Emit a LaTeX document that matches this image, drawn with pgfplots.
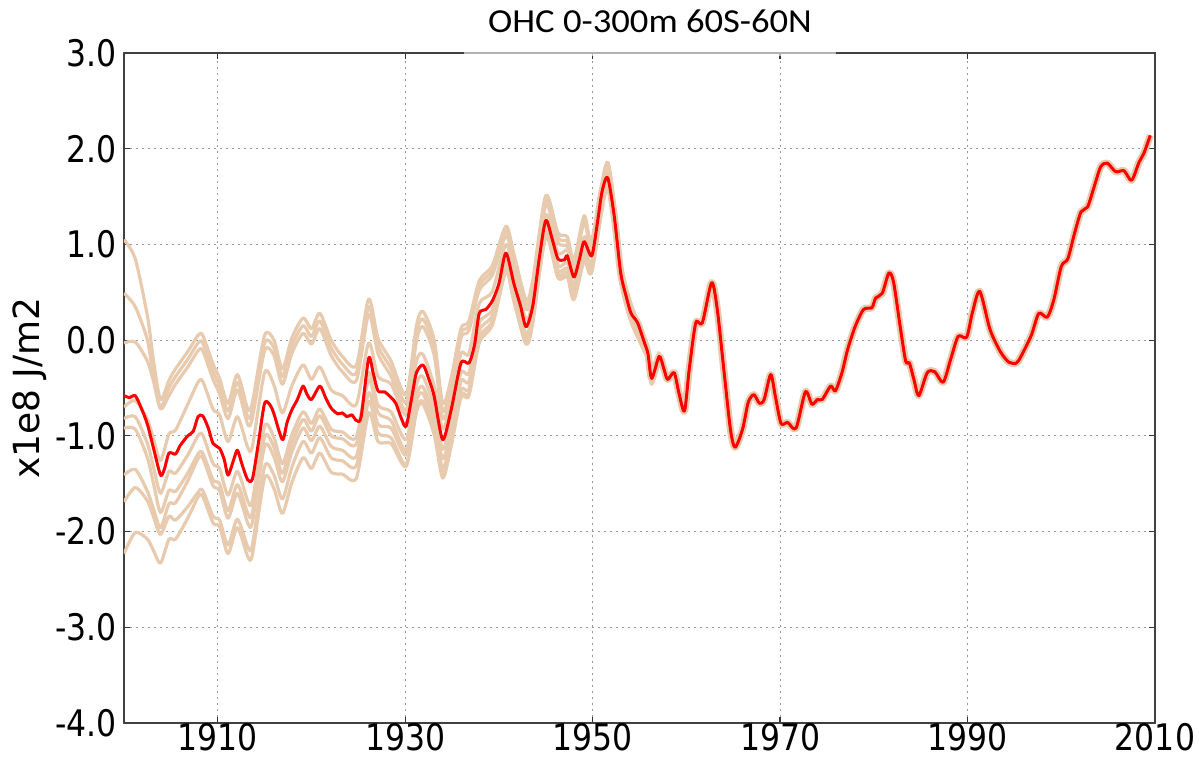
\documentclass[border=0pt]{standalone}
\usepackage{fontspec}
\setmainfont{DejaVu Sans}[FakeStretch=0.86]
\newfontfamily\labfont{DejaVu Sans}
\newfontfamily\titlefont{Carlito}[FakeStretch=1.09]
\usepackage{pgfplots}
\pgfplotsset{compat=1.18}
\usepackage{pgfplotstable}
\definecolor{ens}{RGB}{232,203,175}

% red curve (ensemble reference), year vs OHC
\pgfplotstableread{
year y
1900.0 -0.58
1900.6 -0.60
1901.2 -0.58
1901.8 -0.70
1902.5 -0.88
1903.2 -1.15
1903.9 -1.41
1904.3 -1.35
1904.8 -1.18
1905.5 -1.19
1906.0 -1.10
1906.8 -1.00
1907.4 -0.95
1907.9 -0.80
1908.4 -0.79
1909.0 -0.92
1909.5 -1.08
1910.2 -1.13
1910.7 -1.25
1911.1 -1.41
1911.7 -1.25
1912.1 -1.15
1912.6 -1.30
1913.2 -1.46
1913.7 -1.45
1914.3 -1.10
1915.0 -0.66
1915.6 -0.68
1916.0 -0.77
1916.9 -1.04
1917.4 -0.86
1917.9 -0.73
1918.5 -0.62
1919.1 -0.48
1919.5 -0.56
1920.0 -0.62
1920.9 -0.48
1921.5 -0.60
1922.1 -0.71
1922.8 -0.77
1923.3 -0.76
1923.8 -0.80
1924.3 -0.78
1924.8 -0.84
1925.3 -0.80
1926.1 -0.19
1926.6 -0.35
1927.1 -0.53
1927.8 -0.54
1928.5 -0.60
1929.0 -0.66
1929.6 -0.82
1930.1 -0.90
1930.7 -0.60
1931.2 -0.34
1931.9 -0.26
1932.5 -0.40
1933.1 -0.59
1934.0 -1.04
1934.9 -0.73
1935.95 -0.24
1936.8 -0.24
1937.4 -0.05
1937.9 0.28
1938.6 0.32
1939.3 0.41
1940.0 0.59
1940.75 0.91
1941.6 0.59
1942.3 0.36
1942.9 0.14
1943.6 0.35
1944.3 0.85
1945.0 1.25
1945.7 1.05
1946.3 0.85
1947.0 0.84
1947.3 0.88
1948.0 0.66
1948.6 0.85
1949.1 1.03
1949.9 0.88
1950.5 1.22
1951.0 1.55
1951.6 1.70
1952.3 1.30
1953.0 0.70
1953.6 0.45
1954.1 0.28
1954.8 0.18
1955.5 -0.02
1955.9 -0.14
1956.3 -0.40
1957.1 -0.17
1957.6 -0.30
1958.0 -0.41
1958.7 -0.34
1959.2 -0.55
1959.8 -0.74
1960.3 -0.31
1961.0 0.18
1961.7 0.18
1962.7 0.60
1963.3 0.32
1964.0 -0.31
1964.7 -0.93
1965.2 -1.12
1966.0 -0.93
1966.6 -0.65
1967.2 -0.57
1967.8 -0.66
1968.3 -0.62
1969.0 -0.36
1969.5 -0.59
1970.1 -0.87
1970.8 -0.86
1971.7 -0.92
1972.7 -0.54
1973.4 -0.67
1974.0 -0.62
1974.5 -0.62
1975.4 -0.48
1975.9 -0.53
1976.6 -0.34
1977.2 -0.10
1978.0 0.14
1978.9 0.32
1979.8 0.34
1980.2 0.44
1980.9 0.49
1981.6 0.70
1982.1 0.61
1982.8 0.15
1983.4 -0.22
1983.8 -0.24
1984.3 -0.42
1984.8 -0.58
1985.7 -0.34
1986.5 -0.33
1987.4 -0.44
1988.2 -0.20
1989.0 0.04
1989.9 0.03
1990.5 0.28
1991.3 0.51
1992.4 0.11
1993.5 -0.12
1994.4 -0.23
1995.2 -0.24
1995.7 -0.17
1996.8 0.05
1997.6 0.28
1998.5 0.24
1999.2 0.42
2000.0 0.77
2000.7 0.85
2001.4 1.11
2002.1 1.34
2002.8 1.39
2003.5 1.60
2004.2 1.81
2004.9 1.85
2005.8 1.76
2006.7 1.77
2007.5 1.67
2008.3 1.86
2008.8 1.95
2009.5 2.14
}\redtab

% other ensemble members, early period where they spread out
\pgfplotstableread{
year U1 U2 U3 M L1 L2 L3 L4 L5
1900.0 1.05 0.49 -0.03 -0.70 -0.82 -0.92 -1.41 -1.69 -2.23
1901.2 0.85 0.35 -0.02 -0.63 -0.80 -0.93 -1.35 -1.54 -2.01
1902.5 0.25 0.00 -0.22 -0.83 -1.08 -1.23 -1.58 -1.68 -2.08
1903.2 -0.25 -0.42 -0.45 -1.05 -1.35 -1.52 -1.78 -1.86 -2.21
1903.9 -0.62 -0.70 -0.72 -1.26 -1.60 -1.80 -1.96 -2.03 -2.33
1904.8 -0.42 -0.50 -0.58 -0.98 -1.37 -1.57 -1.71 -1.84 -2.08
1905.5 -0.30 -0.38 -0.46 -0.94 -1.39 -1.58 -1.70 -1.88 -2.08
1906.8 -0.12 -0.20 -0.28 -0.67 -1.20 -1.39 -1.47 -1.74 -1.86
1907.9 0.05 -0.03 -0.11 -0.44 -1.00 -1.19 -1.24 -1.59 -1.64
1908.4 0.05 -0.03 -0.11 -0.43 -0.99 -1.18 -1.23 -1.57 -1.63
1909.5 -0.25 -0.33 -0.41 -0.72 -1.29 -1.46 -1.52 -1.84 -1.91
1910.2 -0.40 -0.48 -0.56 -0.78 -1.34 -1.50 -1.57 -1.88 -1.95
1911.1 -0.66 -0.74 -0.82 -1.06 -1.62 -1.78 -1.86 -2.14 -2.23
1912.1 -0.36 -0.44 -0.52 -0.80 -1.37 -1.51 -1.60 -1.87 -1.96
1913.2 -0.72 -0.80 -0.88 -1.12 -1.68 -1.81 -1.91 -2.16 -2.26
1913.7 -0.65 -0.73 -0.81 -1.11 -1.68 -1.80 -1.90 -2.14 -2.24
1915.0 0.05 -0.03 -0.11 -0.34 -0.90 -1.01 -1.11 -1.32 -1.44
1916.0 0.00 -0.08 -0.16 -0.47 -1.02 -1.12 -1.22 -1.41 -1.55
1916.9 -0.30 -0.38 -0.46 -0.76 -1.29 -1.39 -1.48 -1.66 -1.81
1917.9 0.02 -0.06 -0.14 -0.48 -0.99 -1.08 -1.17 -1.33 -1.49
1919.1 0.23 0.15 0.07 -0.26 -0.75 -0.83 -0.92 -1.06 -1.23
1920.0 0.12 0.04 -0.04 -0.41 -0.87 -0.95 -1.05 -1.18 -1.34
1920.9 0.28 0.20 0.12 -0.28 -0.72 -0.79 -0.90 -1.02 -1.18
1922.1 0.00 -0.08 -0.16 -0.52 -0.93 -1.00 -1.11 -1.23 -1.38
1923.3 -0.17 -0.25 -0.33 -0.58 -0.96 -1.03 -1.15 -1.26 -1.40
1924.8 -0.26 -0.34 -0.42 -0.67 -1.01 -1.08 -1.21 -1.31 -1.44
1926.1 0.43 0.35 0.27 -0.03 -0.34 -0.41 -0.55 -0.64 -0.76
1927.1 0.02 -0.06 -0.14 -0.38 -0.68 -0.76 -0.88 -0.97 -1.06
1928.5 -0.22 -0.30 -0.38 -0.46 -0.75 -0.84 -0.92 -1.02 -1.08
1930.1 -0.57 -0.65 -0.73 -0.78 -1.04 -1.15 -1.20 -1.30 -1.32
1931.2 0.15 0.07 -0.01 -0.22 -0.47 -0.58 -0.64 -0.73 -0.75
1931.9 0.30 0.22 0.14 -0.15 -0.38 -0.49 -0.56 -0.64 -0.67
1933.1 0.00 -0.08 -0.16 -0.48 -0.70 -0.80 -0.89 -0.96 -0.99
1934.0 -0.66 -0.74 -0.82 -0.93 -1.14 -1.24 -1.34 -1.40 -1.44
1934.9 -0.40 -0.48 -0.56 -0.63 -0.83 -0.93 -1.02 -1.08 -1.11
1935.95 0.12 0.07 0.02 -0.14 -0.34 -0.43 -0.52 -0.57 -0.60
1936.8 0.20 0.15 0.10 -0.14 -0.34 -0.43 -0.51 -0.56 -0.58
1937.9 0.62 0.57 0.52 0.38 0.18 0.10 0.03 -0.02 -0.03
1939.3 0.78 0.73 0.68 0.51 0.32 0.26 0.20 0.16 0.16
1940.75 1.19 1.14 1.09 1.00 0.83 0.79 0.75 0.72 0.72
1941.6 0.90 0.85 0.80 0.68 0.51 0.47 0.44 0.41 0.41
1942.9 0.42 0.37 0.32 0.22 0.07 0.03 -0.01 -0.04 -0.04
1943.6 0.62 0.57 0.52 0.42 0.29 0.25 0.21 0.18 0.18
1945.0 1.51 1.46 1.41 1.31 1.19 1.15 1.11 1.08 1.08
1946.3 1.12 1.07 1.02 0.91 0.78 0.73 0.69 0.66 0.65
1947.3 1.08 1.03 0.98 0.94 0.81 0.75 0.71 0.67 0.66
1948.0 0.84 0.81 0.77 0.71 0.58 0.52 0.48 0.44 0.42
1949.1 1.30 1.27 1.23 1.08 0.96 0.91 0.88 0.85 0.83
1949.9 1.05 1.02 0.98 0.93 0.82 0.78 0.75 0.72 0.71
1951.6 1.86 1.83 1.79 1.74 1.66 1.63 1.62 1.60 1.60
1953.0 0.82 0.79 0.77 0.74 0.67 0.64 0.63 0.61 0.61
1954.1 0.38 0.35 0.33 0.31 0.25 0.23 0.22 0.20 0.19
1955.9 -0.06 -0.09 -0.11 -0.11 -0.17 -0.18 -0.19 -0.20 -0.21
1956.3 -0.32 -0.35 -0.37 -0.37 -0.42 -0.44 -0.45 -0.46 -0.46
1957.1 -0.12 -0.15 -0.17 -0.15 -0.19 -0.20 -0.21 -0.22 -0.22
}\enstab

\begin{document}
\begin{tikzpicture}
\begin{axis}[
  name=ax,
  width=515.5pt, height=335pt, scale only axis,
  xmin=1900, xmax=2010, ymin=-4, ymax=3,
  xtick={1910,1930,1950,1970,1990,2010},
  xticklabels={1910,1930,1950,1970,1990,2010},
  ytick={-4,-3,-2,-1,0,1,2,3},
  yticklabels={-4.0,-3.0,-2.0,-1.0,0.0,1.0,2.0,3.0},
  tick label style={font=\fontsize{18.3}{20}\selectfont},
  xticklabel style={inner sep=0pt},
  yticklabel style={inner sep=0pt, xshift=-3.5pt},
  tick align=inside, major tick length=3pt,
  tick style={black!80, line width=0.6pt},
  grid=major,
  major grid style={gray!80, line width=0.5pt, dash pattern=on 1pt off 2pt},
  axis line style={black!75, line width=0.9pt},
  ylabel={x1e8 J/m2},
  ylabel style={font=\labfont\fontsize{18}{20}\selectfont,
    at={(axis description cs:-0.0747,0.5)}, anchor=south, inner sep=0pt},
  every axis plot/.append style={no markers, line join=round, smooth, tension=0.45},
]
\foreach \c in {U1,U2,U3,M,L1,L2,L3,L4,L5}{
  \addplot[ens, line width=1.6pt] table[x=year, y=\c] {\enstab};
}
\addplot[ens, line width=3.6pt, restrict x to domain=1950:2010] table[x=year, y=y] {\redtab};
\addplot[red, line width=1.5pt] table[x=year, y=y] {\redtab};
\end{axis}
% title box sits over the top spine, half transparent like the original
\node[font=\titlefont\fontsize{16.8}{18}\selectfont, anchor=base,
  fill=white, fill opacity=0.6, text opacity=1,
  minimum width=186pt, inner ysep=11.5pt]
  at ([xshift=263pt,yshift=10pt]ax.north west) {OHC 0-300m 60S-60N};
\pgfresetboundingbox
\path ([xshift=-62pt,yshift=-18pt]ax.south west) rectangle ([xshift=22pt,yshift=26.5pt]ax.north east);
\end{tikzpicture}
\end{document}
